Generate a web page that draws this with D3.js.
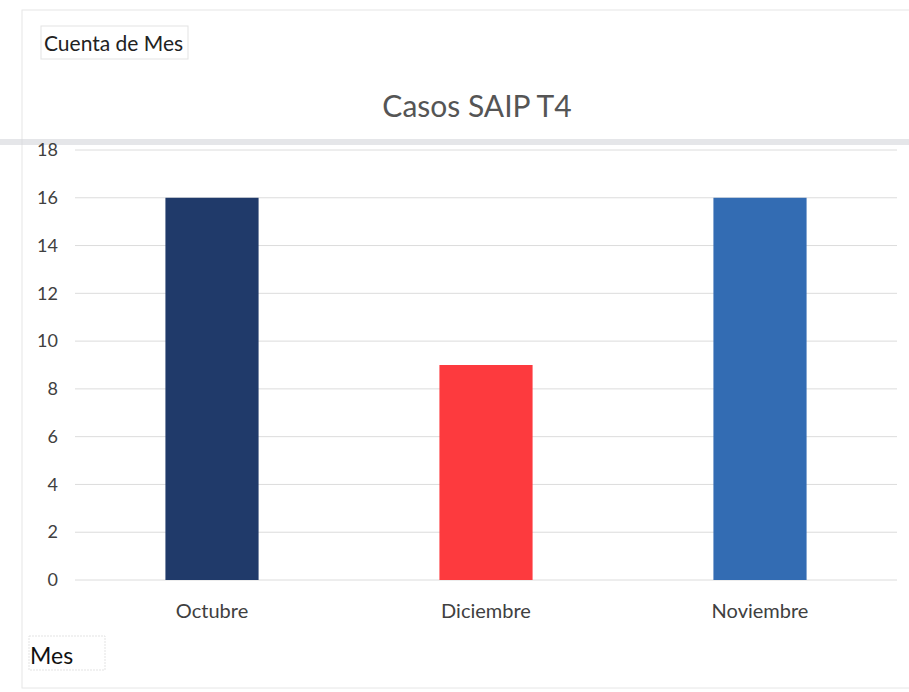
<!DOCTYPE html>
<html>
<head>
<meta charset="utf-8">
<script src="https://cdn.jsdelivr.net/npm/d3@7"></script>
<style>
  body { margin: 0; background: #fff; }
  svg { display: block; font-family: Lato, "Open Sans", sans-serif; }
</style>
</head>
<body>
<script>
// data
const meses = ["Octubre", "Diciembre", "Noviembre"];
const casos = [16, 9, 16];
const colores = ["#203a6a", "#fd3a3e", "#336cb3"];
const yTicks = [0, 2, 4, 6, 8, 10, 12, 14, 16, 18];

const width = 909, height = 692;
const margin = {top: 150, right: 12, bottom: 112, left: 75};

const svg = d3.select("body").append("svg")
    .attr("width", width)
    .attr("height", height);

// faint chart frame
svg.append("rect")
    .attr("x", 22).attr("y", 10)
    .attr("width", 900).attr("height", 678)
    .attr("fill", "none")
    .attr("stroke", "#e6e6e6");

// grey band left by the scan
svg.append("rect")
    .attr("x", 0).attr("y", 139)
    .attr("width", width).attr("height", 6)
    .attr("fill", "#d4d6db")
    .attr("opacity", 0.6);

const x = d3.scaleBand()
    .domain(meses)
    .range([margin.left, width - margin.right])
    .paddingInner(0.66)
    .paddingOuter(0.33);

const y = d3.scaleLinear()
    .domain([0, 18])
    .range([height - margin.bottom, margin.top]);

// gridlines
svg.append("g")
    .selectAll("line")
    .data(yTicks)
    .join("line")
    .attr("x1", margin.left)
    .attr("x2", width - margin.right)
    .attr("y1", d => y(d))
    .attr("y2", d => y(d))
    .attr("stroke", "#dcdcdc")
    .attr("stroke-width", 1);

// y axis labels
const yAxis = d3.axisLeft(y).tickValues(yTicks).tickSize(0).tickPadding(0);
svg.append("g")
    .attr("transform", `translate(${margin.left - 17},0)`)
    .call(yAxis)
    .call(g => g.select(".domain").remove())
    .selectAll("text")
    .attr("font-size", 18)
    .attr("font-family", "Lato, sans-serif")
    .attr("fill", "#404040");

// bars
svg.append("g")
    .selectAll("rect")
    .data(meses)
    .join("rect")
    .attr("x", d => x(d))
    .attr("width", x.bandwidth())
    .attr("y", (d, i) => y(casos[i]))
    .attr("height", (d, i) => y(0) - y(casos[i]))
    .attr("fill", (d, i) => colores[i]);

// x axis labels
const xAxis = d3.axisBottom(x).tickSize(0).tickPadding(24);
svg.append("g")
    .attr("transform", `translate(0,${y(0)})`)
    .call(xAxis)
    .call(g => g.select(".domain").remove())
    .selectAll("text")
    .attr("font-size", 20)
    .attr("font-family", "Lato, sans-serif")
    .attr("fill", "#404040");

// title
svg.append("text")
    .attr("x", 477)
    .attr("y", 117)
    .attr("text-anchor", "middle")
    .attr("font-size", 30)
    .attr("fill", "#555")
    .text("Casos SAIP T4");

// field buttons
svg.append("rect")
    .attr("x", 41).attr("y", 26)
    .attr("width", 147).attr("height", 33)
    .attr("fill", "none")
    .attr("stroke", "#e3e3e3");
svg.append("text")
    .attr("x", 44).attr("y", 51)
    .attr("font-size", 21)
    .attr("fill", "#222")
    .text("Cuenta de Mes");

svg.append("rect")
    .attr("x", 29).attr("y", 636)
    .attr("width", 76).attr("height", 34)
    .attr("fill", "none")
    .attr("stroke", "#e3e3e3")
    .attr("stroke-dasharray", "2,1");
svg.append("text")
    .attr("x", 30).attr("y", 664)
    .attr("font-size", 23)
    .attr("fill", "#111")
    .text("Mes");
</script>
</body>
</html>
